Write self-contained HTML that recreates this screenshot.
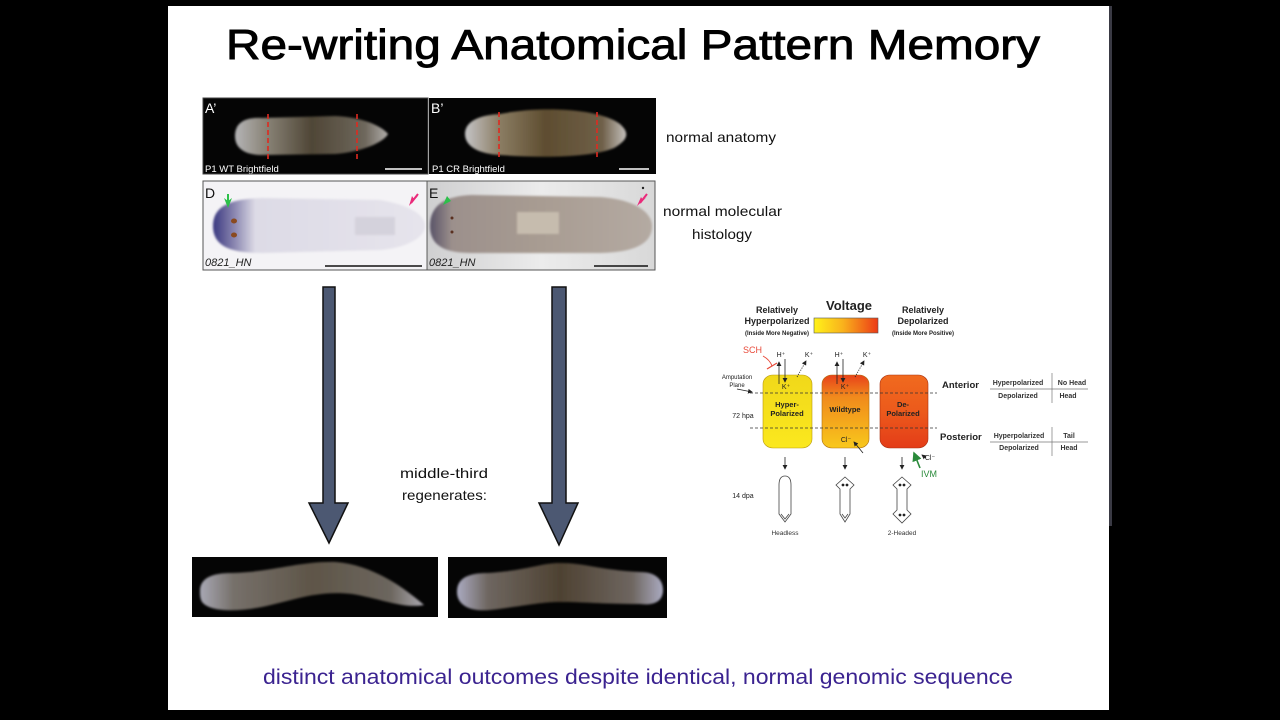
<!DOCTYPE html>
<html><head><meta charset="utf-8"><style>
html,body{margin:0;padding:0;background:#000;}
svg{display:block;}
</style></head><body>
<svg width="1280" height="720" viewBox="0 0 1280 720" xmlns="http://www.w3.org/2000/svg" font-family="Liberation Sans, sans-serif">
<defs>
  <linearGradient id="gA" x1="0" x2="1" y1="0" y2="0">
    <stop offset="0" stop-color="#b4b4b6"/><stop offset="0.2" stop-color="#8a8478"/><stop offset="0.5" stop-color="#4f4636"/><stop offset="0.85" stop-color="#6e675c"/><stop offset="1" stop-color="#b0adaa"/>
  </linearGradient>
  <linearGradient id="gB" x1="0" x2="1" y1="0" y2="0">
    <stop offset="0" stop-color="#c4c4c6"/><stop offset="0.22" stop-color="#8a7c62"/><stop offset="0.5" stop-color="#5e4d30"/><stop offset="0.85" stop-color="#6e5f48"/><stop offset="1" stop-color="#c4c0bc"/>
  </linearGradient>
  <linearGradient id="gD" x1="0" x2="1" y1="0" y2="0">
    <stop offset="0" stop-color="#3a3880"/><stop offset="0.1" stop-color="#8a86b0"/><stop offset="0.2" stop-color="#dddbe6"/><stop offset="1" stop-color="#e6e4ec"/>
  </linearGradient>
  <linearGradient id="gE" x1="0" x2="1" y1="0" y2="0">
    <stop offset="0" stop-color="#5a5468"/><stop offset="0.1" stop-color="#9c908c"/><stop offset="0.5" stop-color="#a89c92"/><stop offset="1" stop-color="#b4aaa2"/>
  </linearGradient>
  <linearGradient id="gEbg" x1="0" x2="1" y1="0" y2="0">
    <stop offset="0" stop-color="#cfcfd0"/><stop offset="0.5" stop-color="#ececec"/><stop offset="1" stop-color="#d8d8d8"/>
  </linearGradient>
  <linearGradient id="gW1" x1="0" x2="1" y1="0" y2="0">
    <stop offset="0" stop-color="#a8a8b4"/><stop offset="0.15" stop-color="#76706a"/><stop offset="0.5" stop-color="#5e5548"/><stop offset="0.85" stop-color="#6c665e"/><stop offset="1" stop-color="#aaa8b0"/>
  </linearGradient>
  <linearGradient id="gW2" x1="0" x2="1" y1="0" y2="0">
    <stop offset="0" stop-color="#aaaac0"/><stop offset="0.15" stop-color="#6e6660"/><stop offset="0.5" stop-color="#4e4232"/><stop offset="0.85" stop-color="#6e6660"/><stop offset="1" stop-color="#aaaac0"/>
  </linearGradient>
  <linearGradient id="gV" x1="0" x2="1" y1="0" y2="0">
    <stop offset="0" stop-color="#fff21a"/><stop offset="0.45" stop-color="#f9b21c"/><stop offset="1" stop-color="#ec3a16"/>
  </linearGradient>
  <linearGradient id="gC1" x1="0" x2="0" y1="0" y2="1">
    <stop offset="0" stop-color="#f0d81a"/><stop offset="1" stop-color="#fbe81e"/>
  </linearGradient>
  <linearGradient id="gC2" x1="0" x2="0" y1="0" y2="1">
    <stop offset="0" stop-color="#e8421a"/><stop offset="0.3" stop-color="#f08a1c"/><stop offset="0.6" stop-color="#f4a41c"/><stop offset="1" stop-color="#f8c81c"/>
  </linearGradient>
  <linearGradient id="gC3" x1="0" x2="0" y1="0" y2="1">
    <stop offset="0" stop-color="#f06a1e"/><stop offset="0.5" stop-color="#ec5a1c"/><stop offset="1" stop-color="#e43c18"/>
  </linearGradient>
  <filter id="bl" x="-10%" y="-20%" width="120%" height="140%"><feGaussianBlur stdDeviation="1"/></filter>
  <clipPath id="cA"><rect x="203" y="98" width="225" height="76"/></clipPath>
  <clipPath id="cB"><rect x="429" y="98" width="227" height="76"/></clipPath>
  <clipPath id="cD"><rect x="203" y="181" width="223" height="89"/></clipPath>
  <clipPath id="cE"><rect x="427" y="181" width="228" height="89"/></clipPath>
  <marker id="ah" markerWidth="6" markerHeight="6" refX="5" refY="3" orient="auto"><path d="M0,0 L6,3 L0,6 Z" fill="#222"/></marker>
  <marker id="ahg" markerWidth="6" markerHeight="6" refX="5" refY="3" orient="auto"><path d="M0,0 L6,3 L0,6 Z" fill="#2a8a3a"/></marker>
</defs>

<!-- slide -->
<rect x="168" y="6" width="941" height="704" fill="#ffffff"/>
<rect x="1109" y="6" width="3" height="520" fill="#3a3a44"/>

<!-- title -->
<text x="226" y="59" font-size="42" fill="#000" stroke="#000" stroke-width="0.9" textLength="814" lengthAdjust="spacingAndGlyphs">Re-writing Anatomical Pattern Memory</text>

<!-- Panel A' -->
<g clip-path="url(#cA)">
  <rect x="203" y="98" width="225" height="76" fill="#050505"/>
  <path d="M235,136 C235,122 246,117 262,118 L335,116 C362,117 382,126 388,134 C384,142 362,152 335,154 L262,155 C246,155 235,149 235,136Z" fill="url(#gA)" filter="url(#bl)"/>
  <line x1="268" y1="114" x2="268" y2="162" stroke="#e02a20" stroke-width="1.6" stroke-dasharray="5,3"/>
  <line x1="357" y1="114" x2="357" y2="162" stroke="#e02a20" stroke-width="1.6" stroke-dasharray="5,3"/>
  <text x="205" y="113" font-size="14" fill="#fff">A’</text>
  <text x="205" y="172" font-size="9.5" fill="#fff">P1 WT Brightfield</text>
  <line x1="385" y1="169" x2="422" y2="169" stroke="#fff" stroke-width="1.5"/>
</g>
<rect x="203" y="98" width="225" height="76" fill="none" stroke="#444" stroke-width="1"/>

<!-- Panel B' -->
<g clip-path="url(#cB)">
  <rect x="429" y="98" width="227" height="76" fill="#050505"/>
  <path d="M465,134 C465,121 480,115 500,114 C540,106 598,108 620,124 C630,133 628,140 614,148 C590,158 540,158 500,155 C480,154 465,147 465,134Z" fill="url(#gB)" filter="url(#bl)"/>
  <line x1="499" y1="112" x2="499" y2="158" stroke="#e02a20" stroke-width="1.6" stroke-dasharray="5,3"/>
  <line x1="597" y1="112" x2="597" y2="158" stroke="#e02a20" stroke-width="1.6" stroke-dasharray="5,3"/>
  <text x="431" y="113" font-size="14" fill="#fff">B’</text>
  <text x="432" y="172" font-size="9.5" fill="#fff">P1 CR Brightfield</text>
  <line x1="619" y1="169" x2="649" y2="169" stroke="#fff" stroke-width="1.5"/>
</g>

<!-- Panel D -->
<g clip-path="url(#cD)">
  <rect x="203" y="181" width="223" height="89" fill="#f4f3f6"/>
  <path d="M213,226 C213,206 230,199 262,198 L380,200 C410,205 425,215 425,226 C425,238 405,248 380,250 L262,253 C230,253 213,246 213,226Z" fill="url(#gD)" filter="url(#bl)"/>
  <rect x="355" y="217" width="40" height="18" fill="#d4d2dc" filter="url(#bl)"/>
  <ellipse cx="234" cy="221" rx="3" ry="2.5" fill="#8a4a20"/>
  <ellipse cx="234" cy="235" rx="3" ry="2.5" fill="#8a4a20"/>
  <path d="M228,208 L224,198 L228,201 L232,198 Z" fill="#2cc04a"/>
  <line x1="228" y1="194" x2="228" y2="203" stroke="#2cc04a" stroke-width="2"/>
  <path d="M409,206 L412,196 L414,199 L418,196 Z" fill="#ea2a7a"/>
  <line x1="418" y1="194" x2="411" y2="203" stroke="#ea2a7a" stroke-width="2"/>
  <text x="205" y="198" font-size="14" fill="#111">D</text>
  <text x="205" y="266" font-size="11" font-style="italic" fill="#222">0821_HN</text>
  <line x1="325" y1="266" x2="422" y2="266" stroke="#111" stroke-width="1.5"/>
</g>
<rect x="203" y="181" width="224" height="89" fill="none" stroke="#555" stroke-width="1"/>

<!-- Panel E -->
<g clip-path="url(#cE)">
  <rect x="427" y="181" width="228" height="89" fill="url(#gEbg)"/>
  <path d="M430,226 C430,205 445,196 472,195 L600,197 C640,200 652,215 652,226 C652,241 640,252 600,253 L472,253 C445,253 430,246 430,226Z" fill="url(#gE)" filter="url(#bl)"/>
  <rect x="517" y="212" width="42" height="22" fill="#c6bcae" filter="url(#bl)"/>
  <circle cx="452" cy="218" r="1.5" fill="#5a3020"/>
  <circle cx="452" cy="232" r="1.5" fill="#5a3020"/>
  <path d="M443,205 L447,196 L451,201 Z" fill="#2cc04a"/>
  <path d="M637,206 L641,197 L643,200 L647,197 Z" fill="#ea2a7a"/>
  <line x1="647" y1="194" x2="640" y2="203" stroke="#ea2a7a" stroke-width="2"/>
  <circle cx="643" cy="188" r="1.2" fill="#222"/>
  <text x="429" y="198" font-size="14" fill="#111">E</text>
  <text x="429" y="266" font-size="11" font-style="italic" fill="#222">0821_HN</text>
  <line x1="594" y1="266" x2="648" y2="266" stroke="#111" stroke-width="1.5"/>
</g>
<rect x="427" y="181" width="228" height="89" fill="none" stroke="#555" stroke-width="1"/>

<!-- side labels -->
<text x="666" y="142" font-size="14" fill="#111" textLength="110" lengthAdjust="spacingAndGlyphs">normal anatomy</text>
<text x="663" y="216" font-size="14" fill="#111" textLength="119" lengthAdjust="spacingAndGlyphs">normal molecular</text>
<text x="692" y="239" font-size="14" fill="#111" textLength="60" lengthAdjust="spacingAndGlyphs">histology</text>

<!-- big arrows -->
<path d="M323,287 L335,287 L335,503 L348,503 L329,543 L309,503 L323,503 Z" fill="#4c5872" stroke="#111" stroke-width="1.5" stroke-linejoin="miter"/>
<path d="M552,287 L566,287 L566,503 L578,503 L559,545 L539,503 L552,503 Z" fill="#4c5872" stroke="#111" stroke-width="1.5" stroke-linejoin="miter"/>

<text x="400" y="478" font-size="14" fill="#111" textLength="88" lengthAdjust="spacingAndGlyphs">middle-third</text>
<text x="402" y="500" font-size="14" fill="#111" textLength="85" lengthAdjust="spacingAndGlyphs">regenerates:</text>

<!-- bottom worm panels -->
<rect x="192" y="557" width="246" height="60" fill="#050505"/>
<path d="M200,591 C200,578 212,573 232,573 C272,572 300,561 336,562 C372,565 402,586 424,605 C404,609 382,599 352,594 C316,590 292,601 262,607 C236,612 210,612 202,602 C200,598 200,595 200,591Z" fill="url(#gW1)" filter="url(#bl)"/>
<rect x="448" y="557" width="219" height="61" fill="#050505"/>
<path d="M457,592 C457,578 468,573 488,573 C530,570 540,563 560,563 C585,563 600,570 640,572 C656,572 663,580 663,590 C663,600 656,606 640,604 C600,604 585,602 560,602 C540,602 525,606 490,610 C468,612 457,604 457,592Z" fill="url(#gW2)" filter="url(#bl)"/>

<!-- bottom caption -->
<text x="263" y="684" font-size="21" fill="#3b2390" textLength="750" lengthAdjust="spacingAndGlyphs">distinct anatomical outcomes despite identical, normal genomic sequence</text>

<!-- ======= Voltage diagram ======= -->
<g font-weight="bold" fill="#222">
  <text x="777" y="313" font-size="9" text-anchor="middle">Relatively</text>
  <text x="777" y="324" font-size="9" text-anchor="middle">Hyperpolarized</text>
  <text x="777" y="335" font-size="6" text-anchor="middle">(Inside More Negative)</text>
  <text x="849" y="310" font-size="13" text-anchor="middle">Voltage</text>
  <text x="923" y="313" font-size="9" text-anchor="middle">Relatively</text>
  <text x="923" y="324" font-size="9" text-anchor="middle">Depolarized</text>
  <text x="923" y="335" font-size="6" text-anchor="middle">(Inside More Positive)</text>
</g>
<rect x="814" y="318" width="64" height="15" fill="url(#gV)" stroke="#555" stroke-width="0.6"/>

<!-- cylinders -->
<rect x="763" y="375" width="49" height="73" rx="10" ry="9" fill="url(#gC1)" stroke="#b89a10" stroke-width="0.6"/>
<rect x="822" y="375" width="47" height="73" rx="10" ry="9" fill="url(#gC2)" stroke="#b07010" stroke-width="0.6"/>
<rect x="880" y="375" width="48" height="73" rx="10" ry="9" fill="url(#gC3)" stroke="#a83010" stroke-width="0.6"/>

<line x1="750" y1="393" x2="937" y2="393" stroke="#333" stroke-width="0.7" stroke-dasharray="3,2"/>
<line x1="750" y1="428" x2="937" y2="428" stroke="#333" stroke-width="0.7" stroke-dasharray="3,2"/>

<g font-size="7.5" font-weight="bold" fill="#222" text-anchor="middle">
  <text x="787" y="407">Hyper-</text>
  <text x="787" y="416">Polarized</text>
  <text x="845" y="412">Wildtype</text>
  <text x="903" y="407">De-</text>
  <text x="903" y="416">Polarized</text>
</g>
<g font-size="7" fill="#222" text-anchor="middle">
  <text x="786" y="389">K⁺</text>
  <text x="845" y="389">K⁺</text>
  <text x="846" y="442">Cl⁻</text>
  <text x="781" y="357">H⁺</text>
  <text x="809" y="357">K⁺</text>
  <text x="839" y="357">H⁺</text>
  <text x="867" y="357">K⁺</text>
  <text x="930" y="460">Cl⁻</text>
</g>
<!-- ion arrows -->
<g stroke="#222" stroke-width="0.8" fill="none">
  <line x1="779" y1="384" x2="779" y2="362" marker-end="url(#ah)"/>
  <line x1="785" y1="359" x2="785" y2="382" marker-end="url(#ah)"/>
  <line x1="797" y1="377" x2="806" y2="361" stroke-dasharray="1.2,1.2" marker-end="url(#ah)"/>
  <line x1="837" y1="384" x2="837" y2="362" marker-end="url(#ah)"/>
  <line x1="843" y1="359" x2="843" y2="382" marker-end="url(#ah)"/>
  <line x1="855" y1="377" x2="864" y2="361" stroke-dasharray="1.2,1.2" marker-end="url(#ah)"/>
  <line x1="863" y1="453" x2="854" y2="442" marker-end="url(#ah)"/>
  <line x1="926" y1="458" x2="922" y2="455" marker-end="url(#ah)"/>
  <line x1="785" y1="457" x2="785" y2="469" marker-end="url(#ah)"/>
  <line x1="845" y1="457" x2="845" y2="469" marker-end="url(#ah)"/>
  <line x1="902" y1="457" x2="902" y2="469" marker-end="url(#ah)"/>
  <line x1="737" y1="389" x2="752" y2="392" marker-end="url(#ah)"/>
</g>
<!-- SCH inhibitor -->
<text x="743" y="353" font-size="9" fill="#e84a3a">SCH</text>
<path d="M763,356 Q770,360 772,366" stroke="#e84a3a" stroke-width="1" fill="none"/>
<line x1="767" y1="369" x2="777" y2="363" stroke="#e84a3a" stroke-width="1.3"/>
<!-- IVM -->
<line x1="920" y1="468" x2="914" y2="453" stroke="#2a8a3a" stroke-width="1.6" marker-end="url(#ahg)"/>
<text x="921" y="477" font-size="9" fill="#2a8a3a">IVM</text>

<g font-size="6" fill="#222" text-anchor="middle">
  <text x="737" y="379">Amputation</text>
  <text x="737" y="387">Plane</text>
</g>
<text x="743" y="418" font-size="7" fill="#222" text-anchor="middle">72 hpa</text>
<text x="743" y="498" font-size="7" fill="#222" text-anchor="middle">14 dpa</text>

<!-- Anterior/Posterior -->
<g font-weight="bold" fill="#222">
  <text x="942" y="388" font-size="9.5">Anterior</text>
  <text x="940" y="440" font-size="9.5">Posterior</text>
</g>
<g font-size="7" font-weight="bold" fill="#333" text-anchor="middle">
  <text x="1018" y="385">Hyperpolarized</text>
  <text x="1018" y="398">Depolarized</text>
  <text x="1072" y="385">No Head</text>
  <text x="1068" y="398">Head</text>
  <text x="1019" y="438">Hyperpolarized</text>
  <text x="1019" y="450">Depolarized</text>
  <text x="1069" y="438">Tail</text>
  <text x="1069" y="450">Head</text>
</g>
<g stroke="#777" stroke-width="0.7">
  <line x1="990" y1="389" x2="1088" y2="389"/>
  <line x1="1052" y1="373" x2="1052" y2="403"/>
  <line x1="990" y1="442" x2="1088" y2="442"/>
  <line x1="1052" y1="427" x2="1052" y2="456"/>
</g>

<!-- worm outlines -->
<g fill="#fff" stroke="#444" stroke-width="0.8">
  <path d="M779,485 Q779,476 785,476 Q791,476 791,485 L791,514 L785,522 L779,514 Z"/>
  <path d="M781,514 L785,519 L789,514" fill="none"/>
  <path d="M845,477 L854,485 L850,489 L850,514 L845,522 L840,514 L840,489 L836,485 Z"/>
  <path d="M842,514 L845,518 L848,514" fill="none"/>
  <path d="M902,477 L911,485 L907,489 L907,510 L911,514 L902,523 L893,514 L897,510 L897,489 L893,485 Z"/>
</g>
<g fill="#222">
  <circle cx="843" cy="485" r="1.4"/><circle cx="847" cy="485" r="1.4"/>
  <circle cx="900" cy="485" r="1.4"/><circle cx="904" cy="485" r="1.4"/>
  <circle cx="900" cy="515" r="1.4"/><circle cx="904" cy="515" r="1.4"/>
</g>
<g font-size="6.5" fill="#333" text-anchor="middle">
  <text x="785" y="535">Headless</text>
  <text x="902" y="535">2-Headed</text>
</g>
</svg>
</body></html>
